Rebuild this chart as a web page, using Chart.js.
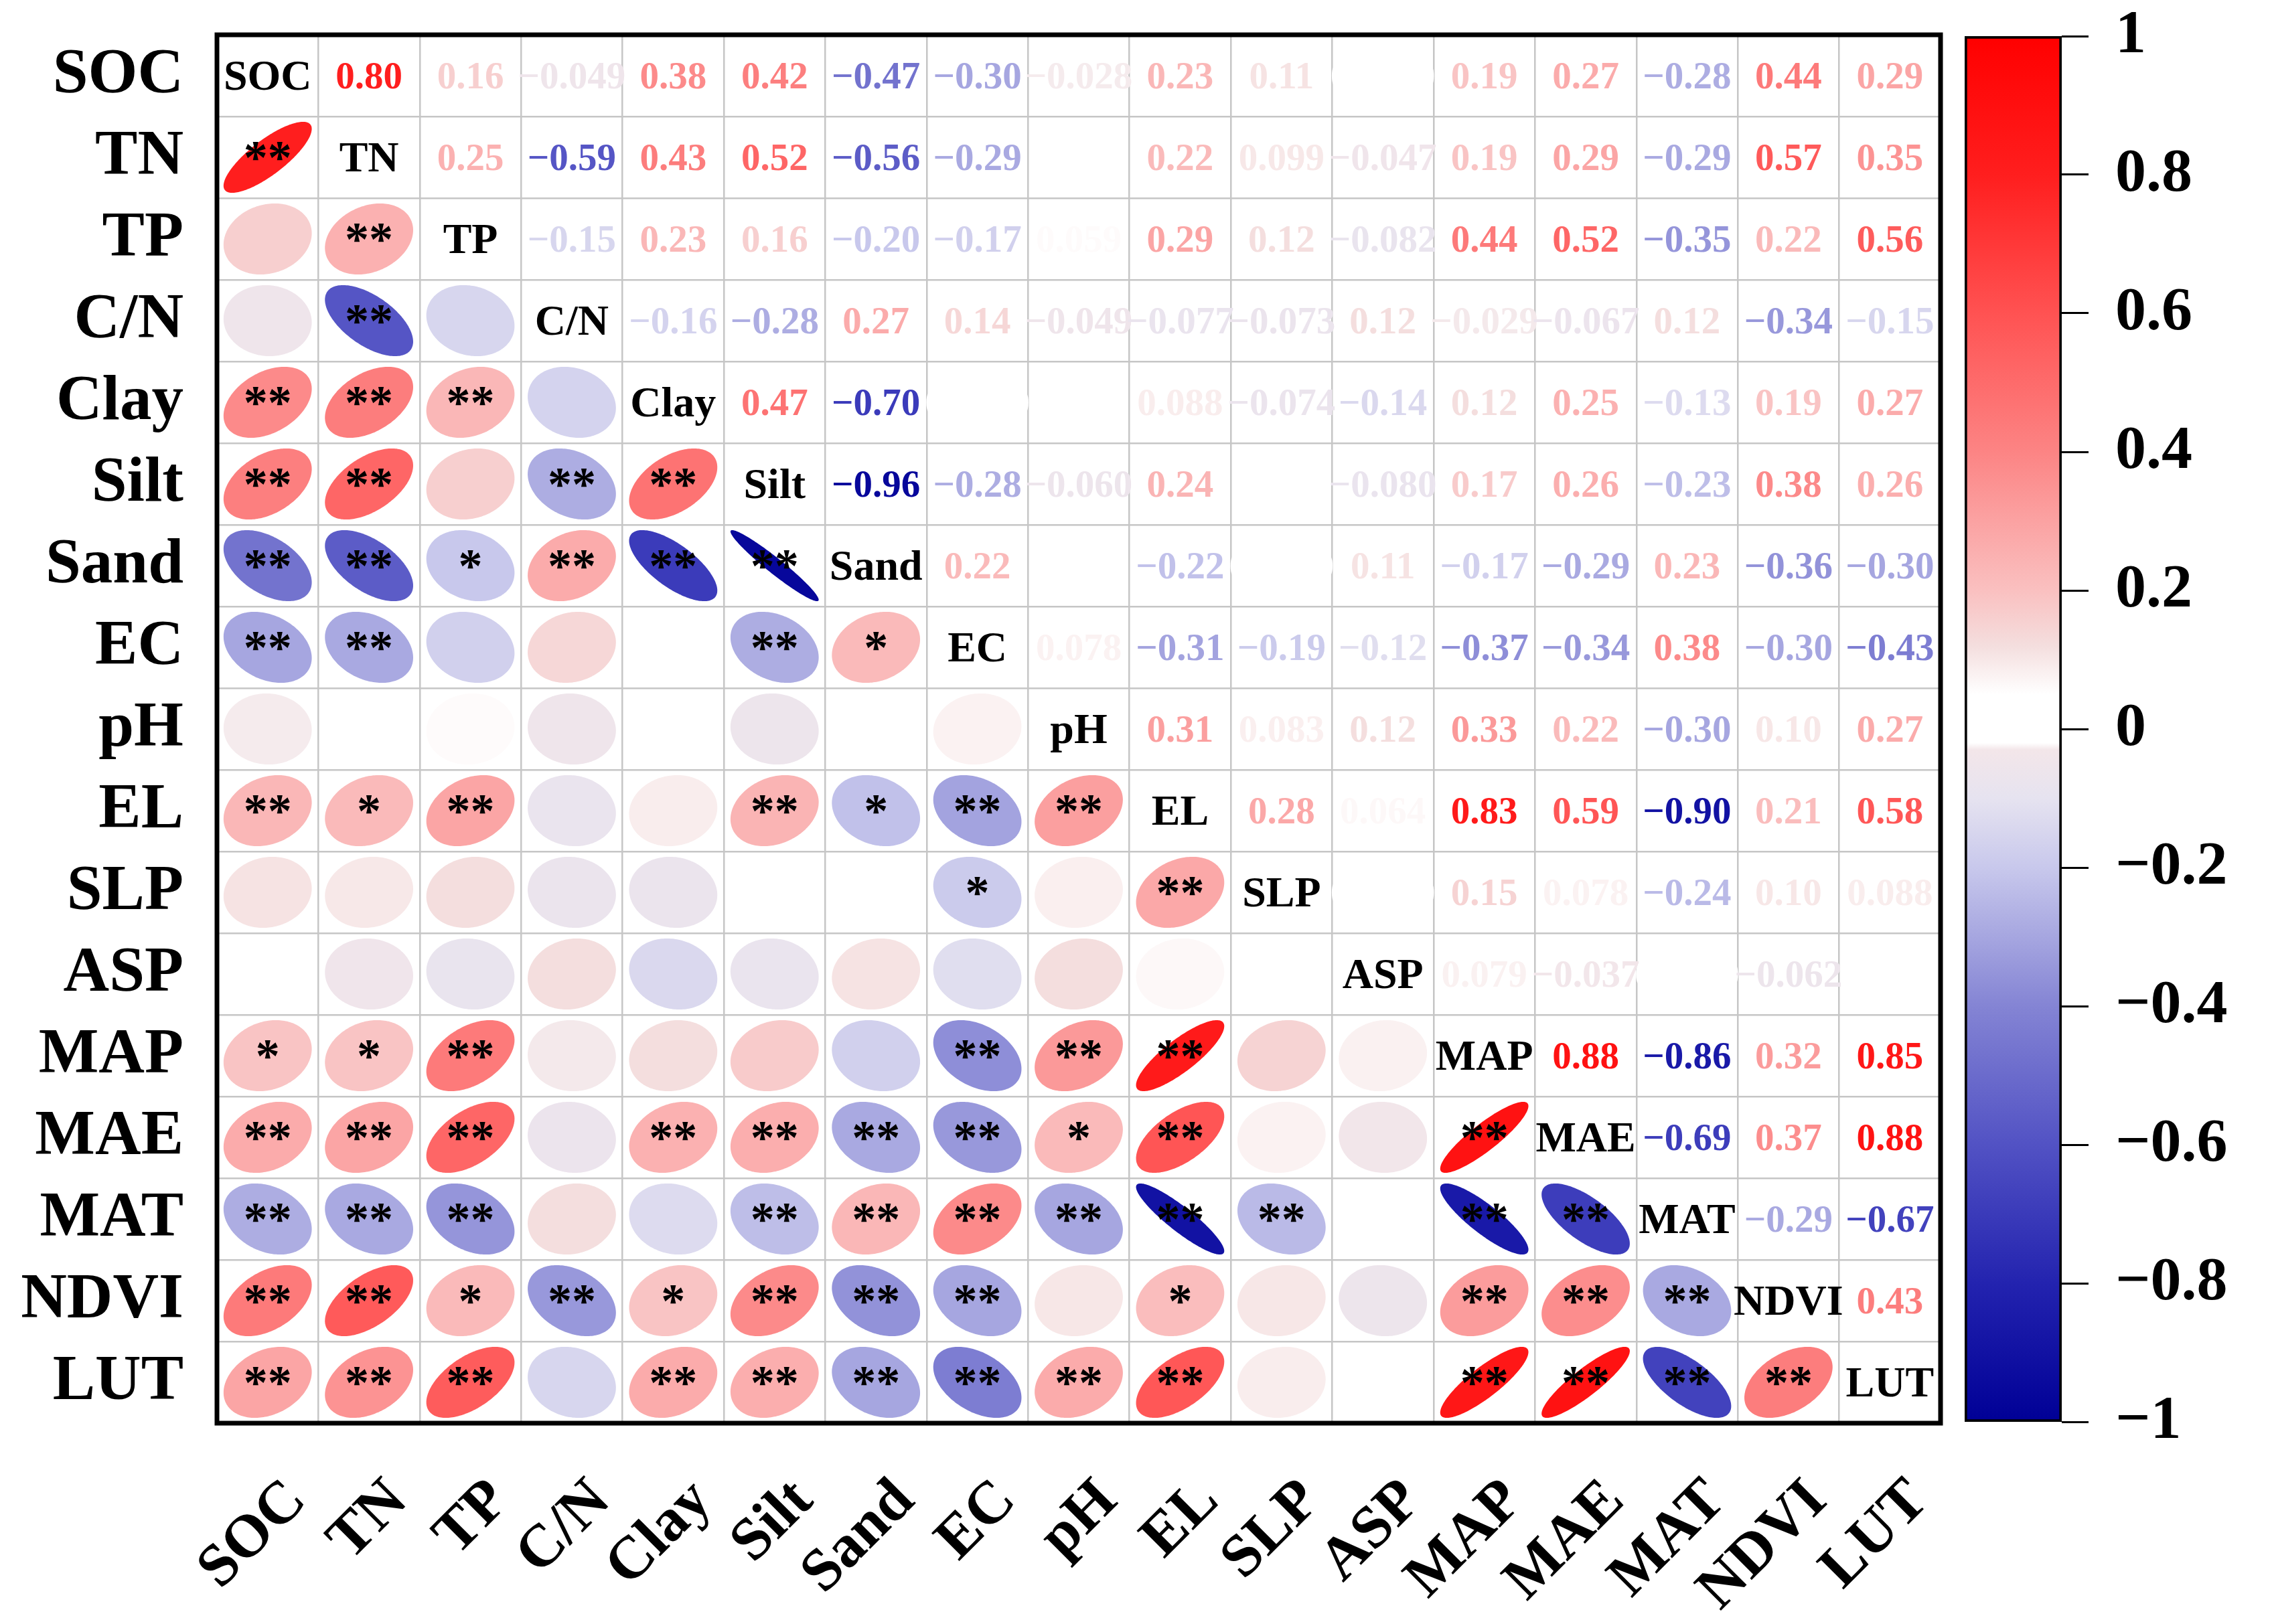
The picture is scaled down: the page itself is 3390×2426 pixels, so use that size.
<!DOCTYPE html>
<html>
<head>
<meta charset="utf-8">
<script src="https://cdn.jsdelivr.net/npm/chart.js@4.4.1/dist/chart.umd.min.js"></script>
<style>
  html, body { margin: 0; padding: 0; background: #fff; overflow: hidden; }
  #wrap { position: relative; width: 3390px; height: 2426px; background: #fff; }
  #matrix { position: absolute; left: 0; top: 0; }
  #scale { position: absolute; left: 2880px; top: 0; }
</style>
</head>
<body>
<div id="wrap">
  <canvas id="matrix" width="3390" height="2426"></canvas>
  <canvas id="scale" width="510" height="2426"></canvas>
</div>
<script>
const vars = ['SOC', 'TN', 'TP', 'C/N', 'Clay', 'Silt', 'Sand', 'EC', 'pH', 'EL', 'SLP', 'ASP', 'MAP', 'MAE', 'MAT', 'NDVI', 'LUT'];

// upper triangle: r of each variable with every variable after it
const rSOC  = [0.80, 0.16, -0.049, 0.38, 0.42, -0.47, -0.30, -0.028, 0.23, 0.11, 0.004, 0.19, 0.27, -0.28, 0.44, 0.29];
const rTN   = [0.25, -0.59, 0.43, 0.52, -0.56, -0.29, 0.012, 0.22, 0.099, -0.047, 0.19, 0.29, -0.29, 0.57, 0.35];
const rTP   = [-0.15, 0.23, 0.16, -0.20, -0.17, 0.059, 0.29, 0.12, -0.082, 0.44, 0.52, -0.35, 0.22, 0.56];
const rCN   = [-0.16, -0.28, 0.27, 0.14, -0.049, -0.077, -0.073, 0.12, -0.029, -0.067, 0.12, -0.34, -0.15];
const rClay = [0.47, -0.70, 0.008, 0.015, 0.088, -0.074, -0.14, 0.12, 0.25, -0.13, 0.19, 0.27];
const rSilt = [-0.96, -0.28, -0.060, 0.24, 0.010, -0.080, 0.17, 0.26, -0.23, 0.38, 0.26];
const rSand = [0.22, 0.043, -0.22, 0.006, 0.11, -0.17, -0.29, 0.23, -0.36, -0.30];
const rEC   = [0.078, -0.31, -0.19, -0.12, -0.37, -0.34, 0.38, -0.30, -0.43];
const rPH   = [0.31, 0.083, 0.12, 0.33, 0.22, -0.30, 0.10, 0.27];
const rEL   = [0.28, 0.064, 0.83, 0.59, -0.90, 0.21, 0.58];
const rSLP  = [0.009, 0.15, 0.078, -0.24, 0.10, 0.088];
const rASP  = [0.079, -0.037, 0.005, -0.062, 0.011];
const rMAP  = [0.88, -0.86, 0.32, 0.85];
const rMAE  = [-0.69, 0.37, 0.88];
const rMAT  = [-0.29, -0.67];
const rNDVI = [0.43];

// lower triangle: significance stars of each variable with every variable before it
const sTN   = ['**'];
const sTP   = ['', '**'];
const sCN   = ['', '**', ''];
const sClay = ['**', '**', '**', ''];
const sSilt = ['**', '**', '', '**', '**'];
const sSand = ['**', '**', '*', '**', '**', '**'];
const sEC   = ['**', '**', '', '', '', '**', '*'];
const sPH   = ['', '', '', '', '', '', '', ''];
const sEL   = ['**', '*', '**', '', '', '**', '*', '**', '**'];
const sSLP  = ['', '', '', '', '', '', '', '*', '', '**'];
const sASP  = ['', '', '', '', '', '', '', '', '', '', ''];
const sMAP  = ['*', '*', '**', '', '', '', '', '**', '**', '**', '', ''];
const sMAE  = ['**', '**', '**', '', '**', '**', '**', '**', '*', '**', '', '', '**'];
const sMAT  = ['**', '**', '**', '', '', '**', '**', '**', '**', '**', '**', '', '**', '**'];
const sNDVI = ['**', '**', '*', '**', '*', '**', '**', '**', '', '*', '', '', '**', '**', '**'];
const sLUT  = ['**', '**', '**', '', '**', '**', '**', '**', '**', '**', '', '', '**', '**', '**', '**'];

// colour bar tick labels
const barTicks = [1, 0.8, 0.6, 0.4, 0.2, 0, -0.2, -0.4, -0.6, -0.8, -1];

const upperRows = [rSOC, rTN, rTP, rCN, rClay, rSilt, rSand, rEC, rPH, rEL, rSLP, rASP, rMAP, rMAE, rMAT, rNDVI, []];
const sigRows = [[], sTN, sTP, sCN, sClay, sSilt, sSand, sEC, sPH, sEL, sSLP, sASP, sMAP, sMAE, sMAT, sNDVI, sLUT];

const SERIF = '"Liberation Serif", "Times New Roman", serif';

// blue - white - red ramp
const ramp = [
  [-1.0, [0, 0, 150]],
  [-0.8, [35, 35, 175]],
  [-0.6, [82, 82, 196]],
  [-0.4, [132, 132, 212]],
  [-0.2, [200, 200, 236]],
  [-0.1, [230, 227, 240]],
  [-0.03, [243, 230, 233]],
  [-0.02, [255, 255, 255]],
  [0.05, [255, 255, 255]],
  [0.12, [244, 222, 222]],
  [0.2, [250, 192, 192]],
  [0.4, [252, 132, 132]],
  [0.6, [255, 82, 82]],
  [0.8, [255, 30, 30]],
  [1.0, [255, 0, 0]]
];
function colorOf(v) {
  v = Math.max(-1, Math.min(1, v));
  for (let k = 1; k < ramp.length; k++) {
    if (v <= ramp[k][0]) {
      const [a, ca] = ramp[k - 1], [b, cb] = ramp[k];
      const t = (v - a) / (b - a);
      const c = ca.map((x, n) => Math.round(x + (cb[n] - x) * t));
      return 'rgb(' + c.join(',') + ')';
    }
  }
  return 'rgb(255,0,0)';
}
function fmt(v) {
  const a = Math.abs(v);
  const s = a >= 0.1 ? a.toFixed(2) : a.toPrecision(2);
  return (v < 0 ? '\u2212' : '') + s;
}

const diagPts = [], valuePts = [], ellipsePts = [];
vars.forEach((name, i) => {
  diagPts.push({ x: name, y: name });
  upperRows[i].forEach((r, k) => {
    const j = i + 1 + k;
    valuePts.push({ x: vars[j], y: name, r: r });
    ellipsePts.push({ x: name, y: vars[j], r: r, sig: sigRows[j][i] });
  });
});

// keep axis labels from pushing the plot area around
function noPad(scale) {
  scale.paddingTop = 0; scale.paddingBottom = 0;
  scale.paddingLeft = 0; scale.paddingRight = 0;
}

const corrMarks = {
  id: 'corrMarks',
  afterDatasetsDraw(chart) {
    const ctx = chart.ctx;
    const cw = chart.scales.x.width / vars.length;
    const ch = chart.scales.y.height / vars.length;
    ctx.save();
    ctx.textAlign = 'center';
    ctx.textBaseline = 'alphabetic';
    chart.data.datasets.forEach((ds, di) => {
      const meta = chart.getDatasetMeta(di);
      meta.data.forEach((el, k) => {
        const p = ds.data[k];
        const cx = el.x, cy = el.y;
        if (ds.kind === 'ellipse') {
          const rx = 0.435 * cw, ry = 0.435 * ch;
          const d = Math.acos(Math.max(-1, Math.min(1, p.r)));
          ctx.beginPath();
          for (let a = 0; a <= 360; a += 2) {
            const t = a * Math.PI / 180;
            const px = cx + rx * Math.cos(t + d / 2);
            const py = cy - ry * Math.cos(t - d / 2);
            if (a === 0) ctx.moveTo(px, py); else ctx.lineTo(px, py);
          }
          ctx.closePath();
          ctx.fillStyle = colorOf(p.r);
          ctx.fill();
          if (p.sig) {
            ctx.fillStyle = '#000';
            ctx.font = 'bold 72px ' + SERIF;
            ctx.fillText(p.sig, cx, cy + 24);
          }
        } else if (ds.kind === 'value') {
          ctx.fillStyle = colorOf(p.r);
          ctx.font = 'bold 57px ' + SERIF;
          ctx.fillText(fmt(p.r), cx, cy + 19);
        } else if (ds.kind === 'diag') {
          ctx.fillStyle = '#000';
          ctx.font = 'bold 64px ' + SERIF;
          ctx.fillText(p.x, cx, cy + 21);
        }
      });
    });
    ctx.restore();
  },
  afterDraw(chart) {
    const { left, top, right, bottom } = chart.chartArea;
    const ctx = chart.ctx;
    ctx.save();
    ctx.strokeStyle = '#000';
    ctx.lineWidth = 7;
    ctx.strokeRect(left, top, right - left, bottom - top);
    ctx.restore();
  }
};

new Chart(document.getElementById('matrix'), {
  type: 'scatter',
  data: {
    datasets: [
      { kind: 'ellipse', data: ellipsePts, pointRadius: 0 },
      { kind: 'value', data: valuePts, pointRadius: 0 },
      { kind: 'diag', data: diagPts, pointRadius: 0 }
    ]
  },
  options: {
    responsive: false,
    devicePixelRatio: 1,
    animation: false,
    events: [],
    layout: { padding: { left: 0, top: 52, right: 492, bottom: 0 } },
    plugins: { legend: { display: false }, tooltip: { enabled: false } },
    scales: {
      x: {
        type: 'category',
        labels: vars,
        offset: true,
        grid: { offset: true, color: '#c6c6c6', lineWidth: 2.5, drawTicks: false },
        border: { display: false },
        ticks: {
          autoSkip: false,
          minRotation: 45,
          maxRotation: 45,
          labelOffset: 44,
          padding: 64,
          color: '#000',
          font: { family: SERIF, size: 90, weight: 'bold' }
        },
        afterFit(scale) { scale.height = 300; noPad(scale); }
      },
      y: {
        type: 'category',
        labels: vars,
        offset: true,
        grid: { offset: true, color: '#c6c6c6', lineWidth: 2.5, drawTicks: false },
        border: { display: false },
        ticks: {
          autoSkip: false,
          padding: 50,
          color: '#000',
          font: { family: SERIF, size: 95, weight: 'bold' }
        },
        afterFit(scale) { scale.width = 324; noPad(scale); }
      }
    }
  },
  plugins: [corrMarks]
});

new Chart(document.getElementById('scale'), {
  type: 'bar',
  data: {
    labels: ['r'],
    datasets: [{
      data: [[-1, 1]],
      backgroundColor(c) {
        const chart = c.chart;
        if (!chart.chartArea) return 'rgba(0,0,0,0)';
        const y = chart.scales.y;
        const g = chart.ctx.createLinearGradient(0, y.getPixelForValue(-1), 0, y.getPixelForValue(1));
        ramp.forEach(([v]) => g.addColorStop((v + 1) / 2, colorOf(v)));
        return g;
      },
      borderColor: '#000',
      borderWidth: 4,
      borderSkipped: false,
      barPercentage: 1,
      categoryPercentage: 1
    }]
  },
  options: {
    responsive: false,
    devicePixelRatio: 1,
    animation: false,
    events: [],
    layout: { padding: { left: 54, top: 54, right: 0, bottom: 302 } },
    plugins: { legend: { display: false }, tooltip: { enabled: false } },
    scales: {
      x: { display: false },
      y: {
        position: 'right',
        min: -1,
        max: 1,
        afterBuildTicks(scale) { scale.ticks = barTicks.map(v => ({ value: v })); },
        grid: { drawOnChartArea: false, drawTicks: true, tickLength: 40, color: '#000', lineWidth: 3 },
        border: { display: false },
        ticks: {
          padding: 40,
          color: '#000',
          font: { family: SERIF, size: 92, weight: 'bold' },
          callback(v) {
            if (Math.abs(v) < 1e-9) return '0';
            const a = Math.abs(v);
            const s = Math.abs(a - 1) < 1e-9 ? '1' : a.toFixed(1);
            return (v < 0 ? '\u2212' : '') + s;
          }
        },
        afterFit(scale) { scale.width = 311; noPad(scale); }
      }
    }
  }
});
</script>
</body>
</html>
